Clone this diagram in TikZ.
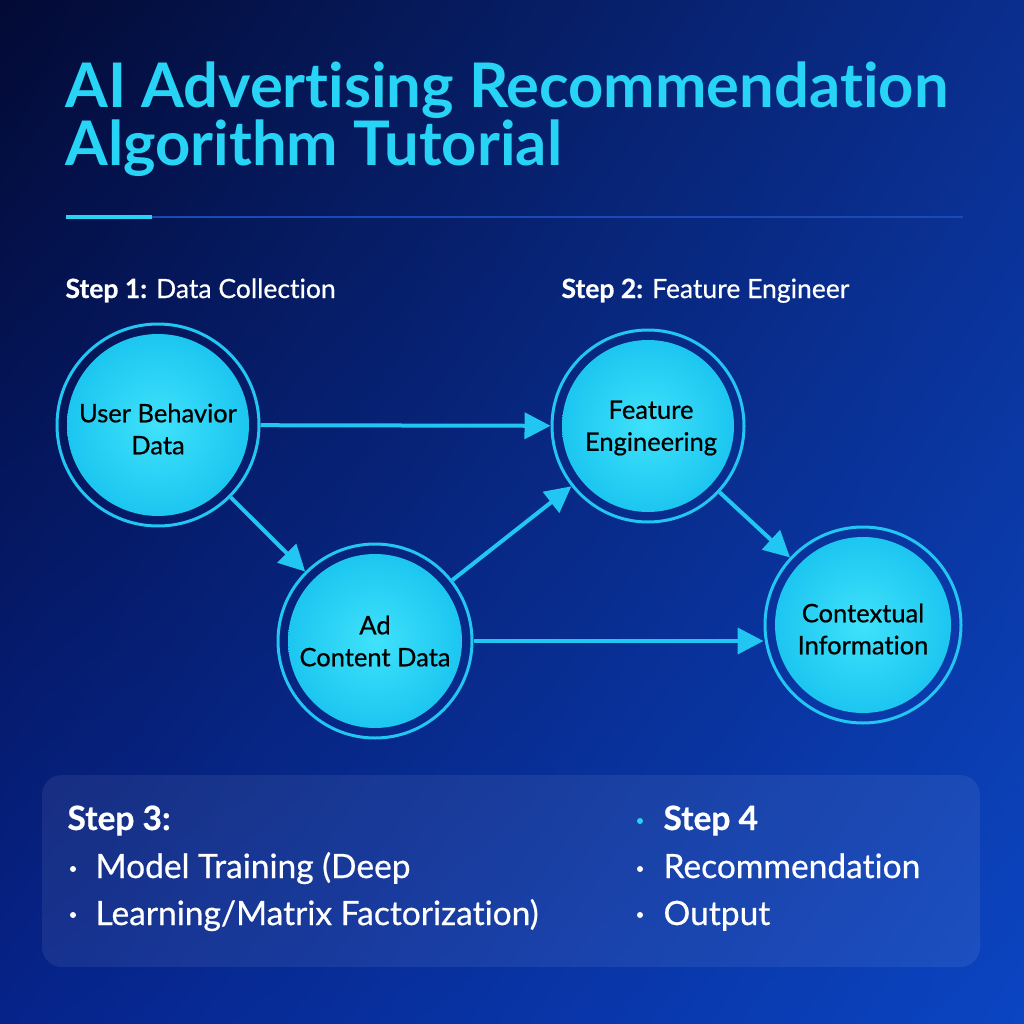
\documentclass[tikz,border=0pt]{standalone}
\usepackage{fontspec}
\setmainfont{Lato}[Ligatures=NoCommon]
\newfontfamily\medfont{Lato}[Ligatures=NoCommon, FakeBold=0.6]
\usetikzlibrary{arrows.meta,shadings}
\definecolor{bgTL}{HTML}{030A34}
\definecolor{bgTR}{HTML}{0A2E8E}
\definecolor{bgBL}{HTML}{06238A}
\definecolor{bgBR}{HTML}{0B45C2}
\definecolor{titlecyan}{HTML}{27D4F5}
\definecolor{ringcyan}{HTML}{22C6F2}
\definecolor{fillin}{HTML}{40E2FB}
\definecolor{fillout}{HTML}{1CC6F0}
\definecolor{divline}{HTML}{1A4AB8}
\begin{document}
\begin{tikzpicture}[x=1pt,y=-1pt,
  ringnode/.style={circle, draw=ringcyan, line width=3pt, inner sep=0pt},
  circtext/.style={align=center, font=\medfont\fontsize{25.5}{32}\selectfont, text=black},
  arr/.style={draw=ringcyan, line width=4pt, -{Triangle[length=26pt,width=26pt]}},
  steplbl/.style={anchor=base west, text=white, font=\medfont\fontsize{26.5}{30}\selectfont},
  paneltext/.style={anchor=base west, text=white, font=\medfont\fontsize{33.5}{38}\selectfont},
  titletext/.style={anchor=base west, text=titlecyan, font=\fontsize{61.5}{66}\selectfont\bfseries}
]
\useasboundingbox (0,0) rectangle (1024,1024);
\shade[upper left=bgTL, upper right=bgTR, lower left=bgBL, lower right=bgBR] (0,0) rectangle (1024,1024);

% title
\node[titletext] (t1) at (62,108) {AI Advertising Recommendation};
\node[titletext] (t2) at (62,166) {Algorithm Tutorial};

% divider
\fill[divline] (152,216) rectangle (963,218.5);
\fill[titlecyan] (66,215) rectangle (152,219.5);

% step labels
\node[steplbl] (s1) at (62,298) {\textbf{Step 1:} Data Collection};
\node[steplbl] (s2) at (558,298) {\textbf{Step 2:} Feature Engineer};

% circles
\node[ringnode, minimum size=202pt] (ubd) at (158,425) {};
\shade[inner color=fillin, outer color=fillout] (158,425) circle (91);
\node[circtext] (ubdt) at (158,429) {User Behavior\\Data};

\node[ringnode, minimum size=194pt] (ad) at (375,641) {};
\shade[inner color=fillin, outer color=fillout] (375,641) circle (87);
\node[circtext] (adt) at (375,641) {Ad\\Content Data};

\node[ringnode, minimum size=192pt] (fe) at (648,426) {};
\shade[inner color=fillin, outer color=fillout] (648,426) circle (86);
\node[circtext] (fet) at (651,428) {Feature\\Engineering};

\node[ringnode, minimum size=196pt] (ctx) at (863,625) {};
\shade[inner color=fillin, outer color=fillout] (863,625) circle (88);
\node[circtext] (ctxt) at (863,629) {Contextual\\Information};

% connectors
\draw[arr] (ubd) -- (fe);
\draw[arr] (ubd) -- (ad);
\draw[arr] (ad) -- (fe);
\draw[arr] (fe) -- (ctx);
\draw[arr] (ad.east) -- (ad.east -| ctx.west);

% bottom panel
\fill[white, fill opacity=0.07, rounded corners=20pt] (42,775) rectangle (980,967);
\node[paneltext] (p3) at (64,830) {\bfseries Step 3:};
\fill[white] (73,869) circle (3);
\node[paneltext] (p3a) at (92,878) {Model Training (Deep};
\fill[white] (73,915) circle (3);
\node[paneltext] (p3b) at (92,925) {Learning/Matrix Factorization)};

\fill[titlecyan] (640,821) circle (3);
\node[paneltext] (p4) at (660,830) {\bfseries Step 4};
\fill[white] (640,869) circle (3);
\node[paneltext] (p4a) at (660,878) {Recommendation};
\fill[white] (640,915) circle (3);
\node[paneltext] (p4b) at (660,925) {Output};
\end{tikzpicture}
\end{document}
